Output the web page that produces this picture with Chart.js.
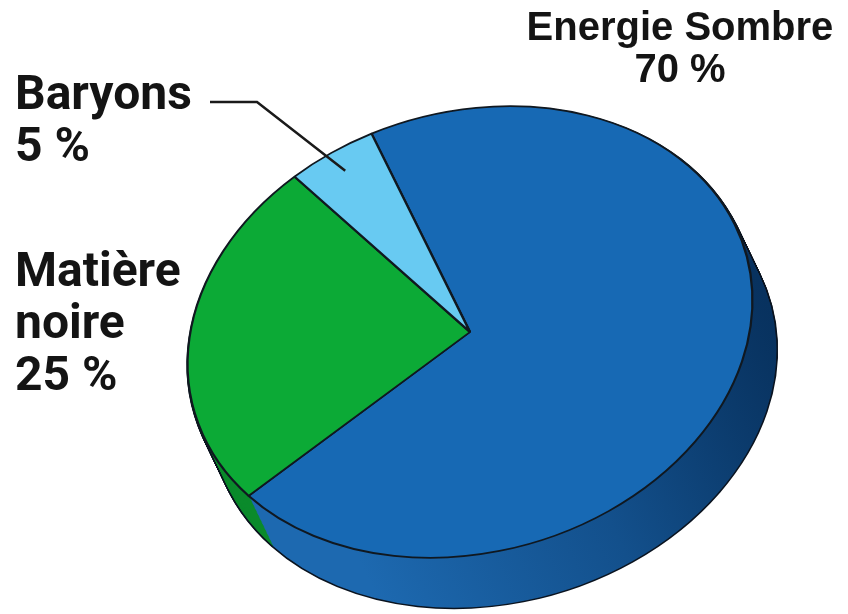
<!DOCTYPE html>
<html lang="fr">
<head>
<meta charset="utf-8">
<title>Contenu de l'Univers</title>
<script src="https://cdn.jsdelivr.net/npm/chart.js@4.4.1/dist/chart.umd.min.js"></script>
<style>
  html, body { margin: 0; padding: 0; background: #fff; }
  #wrap { position: relative; width: 848px; height: 614px; overflow: hidden; }
  #pie { position: absolute; left: 0; top: 0; }
  .lbl { position: absolute; color: #141414; white-space: pre-line; }
  .lbl.left { font-family: Roboto, 'Liberation Sans', sans-serif; font-weight: 700; font-size: 48px; line-height: 52px; left: 15px; }
  #lbl-baryons { top: 67px; }
  #lbl-matiere { top: 244px; }
  #lbl-energie { font-family: 'Liberation Sans', Arial, sans-serif; font-weight: 700; font-size: 40px; line-height: 42px; text-align: center; left: 520px; width: 320px; top: 5px; }
</style>
</head>
<body>
<div id="wrap">
  <canvas id="pie" width="848" height="614"></canvas>
  <div class="lbl" id="lbl-energie"></div>
  <div class="lbl left" id="lbl-baryons"></div>
  <div class="lbl left" id="lbl-matiere"></div>
</div>
<script>
// Composition of the Universe
const categories = ['Energie Sombre', 'Matière noire', 'Baryons'];
const shares = [70, 25, 5];

// slice colours (top face) and the darker tones for the rim
const topColors = ['#1769b4', '#0caa36', '#68caf2'];
const rimColors = [null, '#0a8a2b', '#3aa5d6'];

// look of the tilted disc
const tilt = -16 * Math.PI / 180;
const rimX = 287, rimY = 220;
const faceCenter = { x: 470, y: 332 };
const depth = { x: 24, y: 50 };
const steps = 40;

function applyTilt(ctx, arc) {
    const R = arc.outerRadius;
    ctx.translate(faceCenter.x, faceCenter.y);
    ctx.rotate(tilt);
    ctx.scale(rimX / R, rimY / R);
    ctx.translate(-arc.x, -arc.y);
}

function toCanvas(angle, frac) {
    const u = rimX * frac * Math.cos(angle);
    const v = rimY * frac * Math.sin(angle);
    return {
        x: faceCenter.x + u * Math.cos(tilt) - v * Math.sin(tilt),
        y: faceCenter.y + u * Math.sin(tilt) + v * Math.cos(tilt)
    };
}

// draw an arc with temporary options, then put the real ones back
function drawWith(ctx, arc, opts) {
    const saved = arc.options;
    arc.options = Object.assign({}, saved, opts);
    arc.draw(ctx);
    arc.options = saved;
}

const tiltPlugin = {
    id: 'tilt3d',
    beforeDatasetsDraw(chart) {
        const ctx = chart.ctx;
        const arcs = chart.getDatasetMeta(0).data;
        const a0 = arcs[0];
        const R = a0.outerRadius;

        const shade = ctx.createLinearGradient(a0.x - R * 0.6, 0, a0.x + R, 0);
        shade.addColorStop(0, '#1d69b0');
        shade.addColorStop(0.55, '#13508c');
        shade.addColorStop(1, '#08325f');

        // dark outline of the whole solid, then the coloured rim on top
        for (let pass = 0; pass < 2; pass++) {
            for (let k = steps; k >= 1; k--) {
                ctx.save();
                ctx.translate(depth.x * k / steps, depth.y * k / steps);
                applyTilt(ctx, a0);
                arcs.forEach((arc, i) => {
                    if (pass === 0) {
                        drawWith(ctx, arc, { backgroundColor: '#0b1420', borderColor: '#0b1420', borderWidth: 3 });
                    } else {
                        drawWith(ctx, arc, { backgroundColor: rimColors[i] || shade, borderWidth: 0 });
                    }
                });
                ctx.restore();
            }
        }

        ctx.save();
        applyTilt(ctx, a0);
    },
    afterDatasetsDraw(chart) {
        const ctx = chart.ctx;
        ctx.restore();

        // leader line to the Baryons slice
        const arc = chart.getDatasetMeta(0).data[2];
        const mid = (arc.startAngle + arc.endAngle) / 2;
        const p = toCanvas(mid, 0.9);
        ctx.save();
        ctx.strokeStyle = '#1a1a1a';
        ctx.lineWidth = 2.5;
        ctx.beginPath();
        ctx.moveTo(210, 102);
        ctx.lineTo(257, 102);
        ctx.lineTo(p.x, p.y);
        ctx.stroke();
        ctx.restore();
    }
};

new Chart(document.getElementById('pie'), {
    type: 'pie',
    data: {
        labels: categories,
        datasets: [{
            data: shares,
            backgroundColor: topColors,
            borderColor: '#101820',
            borderWidth: 2,
            clip: false
        }]
    },
    options: {
        responsive: false,
        animation: false,
        events: [],
        rotation: -8,
        layout: { padding: { left: 220, right: 128, top: 82, bottom: 32 } },
        plugins: {
            legend: { display: false },
            tooltip: { enabled: false }
        }
    },
    plugins: [tiltPlugin]
});

// text labels
document.getElementById('lbl-energie').textContent = categories[0] + '\n' + shares[0] + ' %';
document.getElementById('lbl-matiere').textContent = categories[1].split(' ').join('\n') + '\n' + shares[1] + ' %';
document.getElementById('lbl-baryons').textContent = categories[2] + '\n' + shares[2] + ' %';
</script>
</body>
</html>
